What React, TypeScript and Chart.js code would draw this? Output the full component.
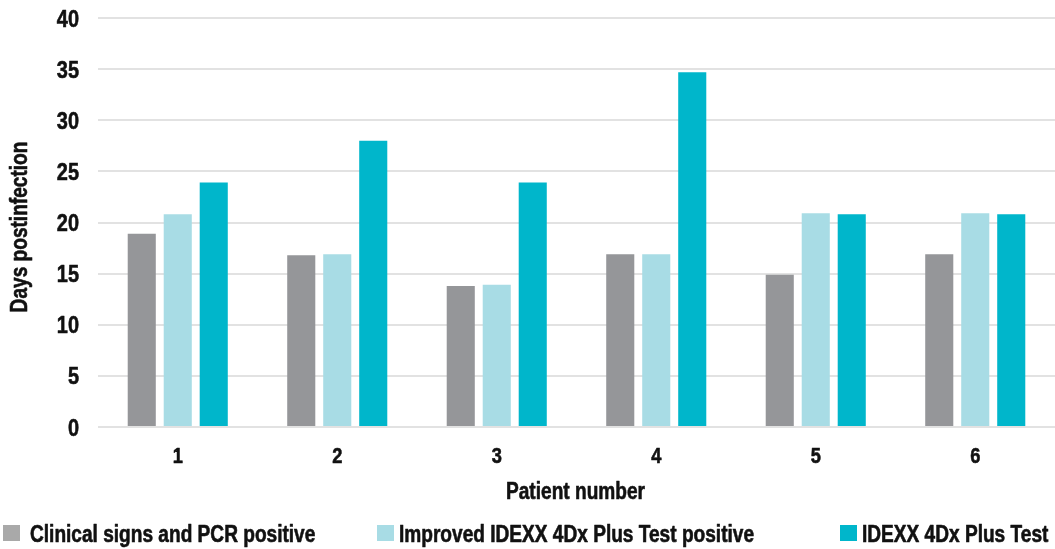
import React, { useEffect, useRef } from "react";
import { Chart, registerables } from "chart.js";

Chart.register(...registerables);

const categories = ["1", "2", "3", "4", "5", "6"];
const clinicalSigns = [18.9, 16.8, 13.8, 16.9, 14.9, 16.9];
const improvedTest = [20.8, 16.9, 13.9, 16.9, 20.9, 20.9];
const standardTest = [23.9, 28.0, 23.9, 34.7, 20.8, 20.8];
const seriesLabels = [
  "Clinical signs and PCR positive",
  "Improved IDEXX 4Dx Plus Test positive",
  "IDEXX 4Dx Plus Test",
];
const yTicks = [0, 5, 10, 15, 20, 25, 30, 35, 40];
const xTitle = "Patient number";
const yTitle = "Days postinfection";

const barColors = ["#959699", "#a8dce5", "#00b6cb"];
const legendBoxColors = ["#a9a9a9", "#a8dce5", "#00b6cb"];
const FONT = "'Liberation Sans', Arial, sans-serif";
const NARROW = 0.83;
const TEXT = "#111111";
const legendX = [3, 377, 840];
const legendTextX = [30, 399, 862];

function narrowText(
  ctx: CanvasRenderingContext2D,
  text: string,
  x: number,
  y: number,
  size: number,
  align: CanvasTextAlign,
  rotate = 0
) {
  ctx.save();
  ctx.translate(x, y);
  if (rotate) ctx.rotate(rotate);
  ctx.scale(NARROW, 1);
  ctx.font = `bold ${size}px ${FONT}`;
  ctx.textAlign = align;
  ctx.textBaseline = "alphabetic";
  ctx.fillStyle = TEXT;
  ctx.strokeStyle = TEXT;
  ctx.lineWidth = 0.6;
  ctx.lineJoin = "round";
  ctx.fillText(text, 0, 0);
  ctx.strokeText(text, 0, 0);
  ctx.restore();
}

const textPlugin = {
  id: "narrowText",
  afterDraw(chart: any) {
    const ctx = chart.ctx as CanvasRenderingContext2D;
    const xs = chart.scales.x;
    const ys = chart.scales.y;
    const area = chart.chartArea;
    ys.ticks.forEach((t: any) => {
      const py = ys.getPixelForValue(t.value);
      narrowText(ctx, String(t.value), 79, py + 8.6, 24, "right");
    });
    categories.forEach((c, i) => {
      const px = xs.getPixelForTick(i);
      narrowText(ctx, c, px, area.bottom + 36, 22, "center");
    });
    narrowText(ctx, xTitle, (area.left + area.right) / 2 - 1, 499, 23, "center");
    narrowText(ctx, yTitle, 27, 227, 23, "center", -Math.PI / 2);
    chart.data.datasets.forEach((ds: any, i: number) => {
      ctx.fillStyle = legendBoxColors[i];
      ctx.fillRect(legendX[i], 525, 17, 16);
      narrowText(ctx, ds.label, legendTextX[i], 542, 23, "left");
    });
  },
};

export default function App() {
  const ref = useRef<HTMLCanvasElement>(null);
  useEffect(() => {
    document.body.style.margin = "0";
    const data = [clinicalSigns, improvedTest, standardTest];
    const chart = new Chart(ref.current!, {
      type: "bar",
      data: {
        labels: categories,
        datasets: data.map((d, i) => ({
          label: seriesLabels[i],
          data: d,
          backgroundColor: barColors[i],
          borderWidth: 0,
          categoryPercentage: 0.677,
          barPercentage: 0.78,
        })),
      },
      options: {
        responsive: false,
        animation: false,
        layout: { padding: { top: 18, left: 8, right: 0, bottom: 45 } },
        plugins: { legend: { display: false }, tooltip: { enabled: false } },
        scales: {
          x: {
            grid: { display: false },
            border: { display: false },
            ticks: { display: false },
            afterFit: (s: any) => {
              s.height = 77;
            },
          },
          y: {
            min: 0,
            max: 40,
            afterBuildTicks: (s: any) => {
              s.ticks = yTicks.map((v) => ({ value: v }));
            },
            grid: { color: "#e2e2e2", lineWidth: 2, drawTicks: false },
            border: { display: false },
            ticks: { display: false },
            afterFit: (s: any) => {
              s.width = 90;
            },
          },
        },
      },
      plugins: [textPlugin],
    });
    return () => chart.destroy();
  }, []);
  return <canvas ref={ref} width={1055} height={549} />;
}
